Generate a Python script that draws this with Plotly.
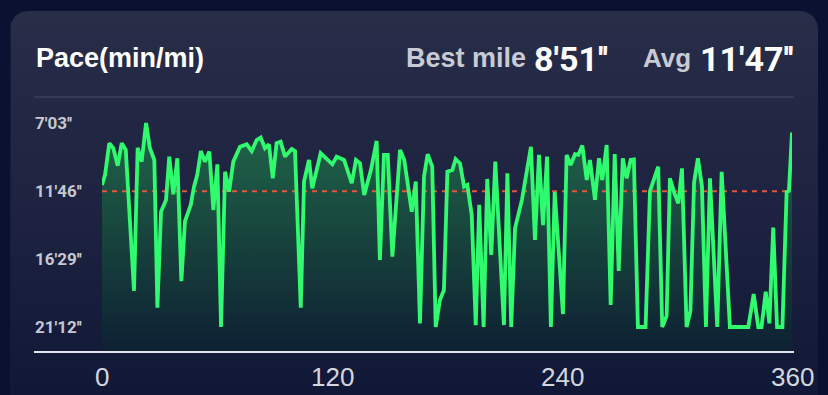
import numpy as np
import plotly.graph_objects as go

# ---------------- data ----------------
DIST = [0, 1.6, 3.8, 5.9, 8.2, 10.3, 12.4, 16.7, 18.6, 20.7,
        23.0, 25.0, 27.3, 28.9, 30.8, 33.4, 35.1, 37.2, 39.3, 41.4,
        43.3, 46.3, 48.0, 49.7, 51.6, 53.7, 56.0, 58.1, 60.2, 62.1,
        64.2, 66.3, 68.5, 72.0, 75.5, 78.1, 80.7, 82.8, 85.0, 87.1,
        89.1, 91.1, 93.2, 95.5, 99.0, 100.7, 103.7, 105.4, 108.0, 109.7,
        114.1, 117.2, 120.2, 122.4, 126.3, 130.3, 132.5, 134.6, 136.8, 140.3,
        143.3, 145.0, 147.1, 149.1, 151.5, 155.5, 157.7, 161.6, 163.7, 165.9,
        168.0, 169.9, 172.3, 174.1, 176.3, 178.4, 180.2, 182.8, 184.5, 186.8,
        188.9, 190.6, 192.9, 195.0, 196.8, 199.1, 201.0, 203.1, 205.2, 209.7,
        211.5, 213.5, 215.5, 219.1, 223.8, 225.9, 228.0, 230.1, 232.2, 234.2,
        236.2, 240.5, 242.4, 244.5, 246.8, 248.5, 250.6, 252.9, 254.6, 257.2,
        259.3, 261.0, 263.3, 265.4, 267.5, 269.6, 271.7, 273.7, 275.8, 277.5,
        279.6, 283.6, 285.9, 290.2, 292.3, 294.6, 296.3, 298.6, 300.7, 302.6,
        305.0, 307.0, 308.9, 310.9, 313.0, 315.1, 317.2, 321.0, 323.3, 327.6,
        337.2, 340.0, 342.4, 344.1, 346.3, 348.2, 350.2, 352.2, 355.0, 357.2,
        358.4, 360]

# pace in seconds per mile
PACE_SEC = [681, 639, 507, 528, 601, 507, 535, 1122, 526, 584,
            423, 528, 577, 1192, 792, 743, 563, 720, 570, 1081,
            831, 764, 688, 639, 540, 584, 542, 785, 595, 1272,
            626, 709, 584, 522, 512, 540, 494, 484, 528, 512,
            653, 507, 501, 563, 531, 540, 1192, 667, 577, 695,
            549, 570, 595, 563, 577, 674, 577, 591, 723, 619,
            498, 993, 556, 556, 979, 535, 577, 792, 667, 1257,
            646, 553, 605, 1272, 1160, 1118, 626, 619, 573, 591,
            688, 681, 806, 1264, 764, 1272, 656, 972, 584, 1264,
            632, 1272, 861, 743, 522, 910, 556, 848, 563, 1272,
            710, 1218, 556, 598, 553, 556, 517, 660, 577, 743,
            570, 660, 515, 1180, 552, 1039, 570, 653, 577, 575,
            1272, 1272, 706, 605, 1272, 1226, 653, 714, 757, 612,
            1272, 1205, 671, 570, 685, 1272, 653, 1272, 626, 1272,
            1272, 1135, 1272, 1272, 1125, 1257, 858, 1272, 1272, 710,
            706, 463]

AVG_SEC = 707
Y_TICKS = [423, 706, 989, 1272]
Y_TICK_LABELS = ["7'03''", "11'46''", "16'29''", "21'12''"]
X_TICKS = [0, 120, 240, 360]
X_TICK_LABELS = ["0", "120", "240", "360"]
TITLE = "Pace(min/mi)"
BEST_LABEL, BEST_VALUE = "Best mile", "8'51''"
AVG_LABEL, AVG_VALUE = "Avg", "11'47''"

# ---------------- styling ----------------
W, H = 828, 395
X_RANGE = [0, 360]
Y_RANGE = [1376, 315]          # reversed: fast pace on top
PLOT_L, PLOT_R, PLOT_T, PLOT_B = 102, 792, 97, 352

COND = "Roboto, Liberation Sans, sans-serif"
SANS = "Liberation Sans, Arial, sans-serif"

fig = go.Figure()

# card background (pixel-space axes x/y)
r = 18
x0, x1, y0, y1 = 10, 818, 11, 430
a = np.linspace(0, np.pi / 2, 12)
cx = ([x0, x0] + list(x0 + r - r * np.cos(a)) + list(x1 - r + r * np.sin(a)) + [x1, x0])
cy = ([y1, y0 + r] + list(y0 + r - r * np.sin(a)) + list(y0 + r - r * np.cos(a)) + [y1, y1])
fig.add_trace(go.Scatter(
    x=cx, y=cy, xaxis="x", yaxis="y", mode="lines", line=dict(width=0),
    fill="toself", hoverinfo="skip", showlegend=False,
    fillgradient=dict(type="vertical", start=y0, stop=H,
                      colorscale=[[0, "#282d48"], [0.5, "#1d2340"], [1, "#111837"]]),
))

# baseline for area fill
fig.add_trace(go.Scatter(
    x=[X_RANGE[0], X_RANGE[1]], y=[Y_RANGE[0], Y_RANGE[0]], xaxis="x2", yaxis="y2",
    mode="lines", line=dict(width=0), hoverinfo="skip", showlegend=False))
# area fill
fig.add_trace(go.Scatter(
    x=DIST, y=PACE_SEC, xaxis="x2", yaxis="y2", mode="lines", line=dict(width=0),
    fill="tonexty", hoverinfo="skip", showlegend=False,
    fillgradient=dict(type="vertical", start=Y_TICKS[0], stop=Y_RANGE[0],
                      colorscale=[[0, "#21664b"], [0.45, "#18473e"], [1, "#0e2033"]]),
))
# average dashed line
fig.add_trace(go.Scatter(
    x=[DIST[0], DIST[-1]], y=[AVG_SEC, AVG_SEC], xaxis="x2", yaxis="y2", mode="lines",
    line=dict(color="#e0583f", width=2, dash="5px,5px"), hoverinfo="skip", showlegend=False))
# pace line
fig.add_trace(go.Scatter(
    x=DIST, y=PACE_SEC, xaxis="x2", yaxis="y2", mode="lines",
    line=dict(color="#30fb6e", width=3.8), showlegend=False))

shapes = [
    dict(type="line", xref="x", yref="y", x0=34, x1=794, y0=PLOT_T, y1=PLOT_T,
         line=dict(color="#474c66", width=1)),
    dict(type="line", xref="x", yref="y", x0=34, x1=794, y0=PLOT_B, y1=PLOT_B,
         line=dict(color="#e4e5ec", width=2)),
]

ann = []
ann.append(dict(x=34, y=58, xref="x", yref="y", text=f"<b>{TITLE}</b>", showarrow=False,
                xanchor="left", yanchor="middle", font=dict(family=SANS, size=27, color="#ffffff")))
ann.append(dict(x=795, y=59, xref="x", yref="y", text=f"<b>{AVG_VALUE}</b>", showarrow=False,
                xanchor="right", yanchor="middle", font=dict(family=COND, size=34, color="#ffffff")))
ann.append(dict(x=693, y=58, xref="x", yref="y", text=f"<b>{AVG_LABEL}</b>", showarrow=False,
                xanchor="right", yanchor="middle", font=dict(family=SANS, size=26, color="#c8cad4")))
ann.append(dict(x=610, y=59, xref="x", yref="y", text=f"<b>{BEST_VALUE}</b>", showarrow=False,
                xanchor="right", yanchor="middle", font=dict(family=COND, size=34, color="#ffffff")))
ann.append(dict(x=528, y=58, xref="x", yref="y", text=f"<b>{BEST_LABEL}</b>", showarrow=False,
                xanchor="right", yanchor="middle", font=dict(family=SANS, size=27, color="#c8cad4")))
for v, t in zip(Y_TICKS, Y_TICK_LABELS):
    ann.append(dict(x=33, y=v, xref="x", yref="y2", text=f"<b>{t}</b>", showarrow=False,
                    xanchor="left", yanchor="middle", font=dict(family=COND, size=17, color="#c5c7d1")))
for v, t in zip(X_TICKS, X_TICK_LABELS):
    ann.append(dict(x=v, y=377, xref="x2", yref="y", text=t, showarrow=False,
                    xanchor="center", yanchor="middle", font=dict(family=SANS, size=26, color="#d4d6de")))

fig.update_layout(
    width=W, height=H, autosize=False,
    margin=dict(l=0, r=0, t=0, b=0),
    paper_bgcolor="#0b1231", plot_bgcolor="rgba(0,0,0,0)",
    xaxis=dict(range=[0, W], domain=[0, 1], visible=False, fixedrange=True),
    yaxis=dict(range=[H, 0], domain=[0, 1], visible=False, fixedrange=True),
    xaxis2=dict(range=X_RANGE, domain=[PLOT_L / W, PLOT_R / W], anchor="y2", visible=False, fixedrange=True),
    yaxis2=dict(range=Y_RANGE, domain=[1 - PLOT_B / H, 1 - PLOT_T / H], anchor="x2", visible=False, fixedrange=True),
    shapes=shapes, annotations=ann, showlegend=False,
)

fig.write_html(
    "out.html",
    config={"displayModeBar": False},
    post_script="document.body.style.margin='0';document.body.style.overflow='hidden';"
                "document.body.style.background='#0b1231';",
)
